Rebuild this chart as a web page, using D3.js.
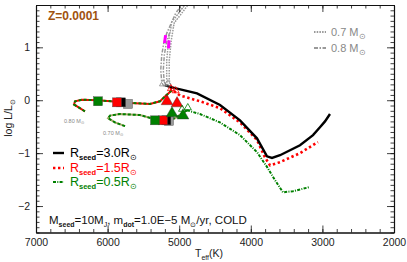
<!DOCTYPE html>
<html>
<head>
<meta charset="utf-8">
<script src="https://cdn.jsdelivr.net/npm/d3@7"></script>
<style>
  body { margin: 0; background: #fff; }
  svg { font-family: "Liberation Sans", Arial, sans-serif; }
</style>
</head>
<body>
<svg id="hrd" width="407" height="262"></svg>
<script>
// tick values
const teffTicks = [7000, 6000, 5000, 4000, 3000, 2000];
const lumTicks = [-2, -1, 0, 1];

// pre-MS tracks, [Teff, logL]
const track07 = [[4850, 2.0], [4905, 1.79], [4989, 1.64], [5087, 1.47], [5129, 1.13], [5157, 0.75], [5157, 0.38], [5129, 0.25]];
const track08 = [[4890, 2.0], [4947, 1.79], [5031, 1.64], [5157, 1.26], [5198, 1.08], [5226, 0.85], [5240, 0.57], [5226, 0.34], [5198, 0.28]];
const magenta07 = [[5143, 1.13], [5150, 0.98]];
const magenta08 = [[5190, 1.23], [5205, 1.08]];

// accretion tracks
const seed30 = [[5198, 0.28], [5059, 0.23], [4751, 0.13], [4430, -0.09], [4151, -0.38], [3914, -0.72], [3774, -1.06], [3704, -1.09], [3592, -1.04], [3313, -0.85], [3131, -0.66], [3034, -0.51], [2964, -0.40], [2894, -0.26]];
const seed15 = [[5129, 0.23], [4989, 0.09], [4710, -0.02], [4430, -0.15], [4151, -0.42], [3914, -0.75], [3802, -1.08], [3732, -1.23], [3592, -1.17], [3313, -1.00], [3062, -0.79]];
const seed05 = [[4891, -0.19], [4710, -0.26], [4430, -0.42], [4151, -0.66], [3914, -0.98], [3774, -1.26], [3662, -1.51], [3551, -1.74], [3411, -1.72], [3174, -1.64]];

// loops toward the ZAMS
const loop08 = [[6316, -0.21], [6399, -0.14], [6469, -0.08], [6455, -0.02], [6358, 0.01], [6134, 0.00], [5869, -0.03], [5687, -0.05], [5408, -0.07], [5268, -0.02], [5184, 0.09], [5101, 0.19]];
const loop07 = [[5757, -0.49], [5897, -0.42], [5994, -0.34], [5966, -0.29], [5827, -0.26], [5548, -0.28], [5338, -0.36], [5198, -0.38], [5059, -0.34], [4961, -0.25], [4891, -0.19]];

// markers
const squares = [
  {t: 5715, l: -0.07, c: "#999"}, {t: 5813, l: -0.04, c: "#000"}, {t: 5869, l: -0.04, c: "#f00"}, {t: 6134, l: -0.02, c: "#008000"},
  {t: 5143, l: -0.39, c: "#999"}, {t: 5180, l: -0.38, c: "#000"}, {t: 5226, l: -0.38, c: "#f00"}, {t: 5338, l: -0.38, c: "#008000"}
];
const triangles = [
  {t: 5170, l: -0.02, c: "#f00"}, {t: 5030, l: -0.06, c: "#f00"},
  {t: 5101, l: -0.25, c: "#008000"}, {t: 4947, l: -0.29, c: "#008000"}
];
const smallMarks = [
  {t: 5226, l: 0.31, c: "#888"}, {t: 5160, l: 0.31, c: "#888"},
  {t: 5115, l: 0.22, c: "#f00"}, {t: 5050, l: 0.18, c: "#f00"},
  {t: 4960, l: -0.17, c: "#008000"}, {t: 4880, l: -0.14, c: "#008000"}
];

const svg = d3.select('#hrd');
const x = d3.scaleLinear().domain([7000, 2000]).range([36, 394]);
const y = d3.scaleLinear().domain([-2.5, 1.8]).range([232.5, 5]);
const line = d3.line().x(d => x(d[0])).y(d => y(d[1]));

svg.append('clipPath').attr('id', 'clip')
  .append('rect').attr('x', 36).attr('y', 5).attr('width', 358).attr('height', 227.5);

const plot = svg.append('g').attr('clip-path', 'url(#clip)');

// gray tracks, drawn as double lines
function grayTrack(data, dash) {
  plot.append('path').attr('d', line(data)).attr('fill', 'none')
    .attr('stroke', '#999').attr('stroke-width', 4).attr('stroke-dasharray', dash);
  plot.append('path').attr('d', line(data)).attr('fill', 'none')
    .attr('stroke', '#fff').attr('stroke-width', 1.1);
}
grayTrack(track08, '4,1.5,1.5,1.5');
grayTrack(track07, '1.5,1.2');
[magenta07, magenta08].forEach(m => {
  plot.append('path').attr('d', line(m)).attr('fill', 'none')
    .attr('stroke', '#f0f').attr('stroke-width', 3);
});

// loops: red and green interleaved
[loop08, loop07].forEach((lp, i) => {
  plot.append('path').attr('d', line(lp)).attr('fill', 'none')
    .attr('stroke', i == 0 ? '#f00' : '#a9a76a').attr('stroke-width', 2);
  plot.append('path').attr('d', line(lp)).attr('fill', 'none')
    .attr('stroke', '#008000').attr('stroke-width', 2).attr('stroke-dasharray', '3,2');
});

plot.append('path').attr('d', line(seed05)).attr('fill', 'none')
  .attr('stroke', '#008000').attr('stroke-width', 2).attr('stroke-dasharray', '3,1.3,1,1.3');
plot.append('path').attr('d', line(seed15)).attr('fill', 'none')
  .attr('stroke', '#f00').attr('stroke-width', 2.6).attr('stroke-dasharray', '2.4,2.6');
plot.append('path').attr('d', line(seed30)).attr('fill', 'none')
  .attr('stroke', '#000').attr('stroke-width', 2.4);

// markers
plot.selectAll('rect.sq').data(squares).enter().append('rect')
  .attr('x', d => x(d.t) - 4.5).attr('y', d => y(d.l) - 4.5)
  .attr('width', 9).attr('height', 9)
  .attr('fill', d => d.c).attr('stroke', '#444').attr('stroke-width', 0.4);

const tri = d3.symbol().type(d3.symbolTriangle).size(60);
plot.selectAll('path.tri').data(triangles).enter().append('path')
  .attr('d', tri).attr('transform', d => `translate(${x(d.t)},${y(d.l)})`)
  .attr('fill', d => d.c).attr('stroke', '#333').attr('stroke-width', 0.4);

const smallTri = d3.symbol().type(d3.symbolTriangle).size(22);
plot.selectAll('path.st').data(smallMarks).enter().append('path')
  .attr('d', smallTri).attr('transform', d => `translate(${x(d.t)},${y(d.l)})`)
  .attr('fill', 'none').attr('stroke', d => d.c).attr('stroke-width', 0.8);

// axes, ticks pointing inward on all four sides
const frame = svg.append('g').attr('font-size', 10.5).attr('fill', '#222');
function minor(lo, hi, step) { return d3.range(lo, hi + step / 2, step).map(v => +v.toFixed(2)); }
const xMinor = minor(2000, 7000, 200);
const yMinor = minor(-2.5, 1.8, 0.1);

const axes = [
  [d3.axisBottom(x).tickValues(teffTicks).tickFormat(d3.format('d')), `translate(0,${y(-2.5)})`, true],
  [d3.axisBottom(x).tickValues(xMinor).tickFormat(''), `translate(0,${y(-2.5)})`, false],
  [d3.axisTop(x).tickValues(teffTicks).tickFormat(''), `translate(0,5)`, true],
  [d3.axisTop(x).tickValues(xMinor).tickFormat(''), `translate(0,5)`, false],
  [d3.axisLeft(y).tickValues(lumTicks).tickFormat(d3.format('d')), `translate(36,0)`, true],
  [d3.axisLeft(y).tickValues(yMinor).tickFormat(''), `translate(36,0)`, false],
  [d3.axisRight(y).tickValues(lumTicks).tickFormat(''), `translate(394,0)`, true],
  [d3.axisRight(y).tickValues(yMinor).tickFormat(''), `translate(394,0)`, false]
];
axes.forEach(([ax, tr, major]) => {
  const g = frame.append('g').attr('transform', tr)
    .call(ax.tickSizeInner(major ? -7 : -3.5).tickSizeOuter(0).tickPadding(major ? 6 : 0));
  g.selectAll('line').attr('stroke', '#111').attr('stroke-width', 0.8);
  g.select('.domain').attr('stroke', '#111').attr('stroke-width', 1.1);
  g.selectAll('text').attr('font-size', 10.5).attr('fill', '#222')
    .attr('font-family', '"Liberation Sans", Arial, sans-serif');
});

// axis titles
const xt = svg.append('text').attr('x', 209).attr('y', 257).attr('text-anchor', 'middle')
  .attr('font-size', 10.5).attr('fill', '#222');
xt.append('tspan').text('T');
xt.append('tspan').attr('font-size', 7).attr('dy', 2.5).text('eff');
xt.append('tspan').attr('dy', -2.5).text('(K)');

const yt = svg.append('text').attr('transform', 'translate(12,118) rotate(-90)')
  .attr('text-anchor', 'middle').attr('font-size', 10.5).attr('fill', '#222');
yt.append('tspan').text('log L/L');
yt.append('tspan').attr('font-size', 7).attr('dy', 2.5).text('⊙');

// Z label
svg.append('text').attr('x', 48).attr('y', 20).attr('font-size', 12).attr('font-weight', 'bold')
  .attr('fill', '#a0520f').text('Z=0.0001');

// mass legend (top right)
const massLegend = [{label: '0.7', dash: '1.5,1.2', yy: 32}, {label: '0.8', dash: '4,1.5,1.5,1.5', yy: 48}];
massLegend.forEach(m => {
  svg.append('line').attr('x1', 314).attr('x2', 326).attr('y1', m.yy).attr('y2', m.yy)
    .attr('stroke', '#999').attr('stroke-width', 2).attr('stroke-dasharray', m.dash);
  const t = svg.append('text').attr('x', 331).attr('y', m.yy + 4).attr('font-size', 11).attr('fill', '#888');
  t.append('tspan').text(m.label + ' M');
  t.append('tspan').attr('font-size', 7.5).attr('dy', 2.5).text('⊙');
});

// small loop labels
[{txt: '0.80 M', xx: 64, yy: 123}, {txt: '0.70 M', xx: 103, yy: 135}].forEach(s => {
  const t = svg.append('text').attr('x', s.xx).attr('y', s.yy).attr('font-size', 5.5).attr('fill', '#888');
  t.append('tspan').text(s.txt);
  t.append('tspan').attr('font-size', 4).attr('dy', 1.2).text('⊙');
});

// seed radius legend
const seedLegend = [
  {r: '3.0', c: '#000', dash: null, w: 2.4, yy: 153},
  {r: '1.5', c: '#f00', dash: '2.4,2.6', w: 2.6, yy: 168},
  {r: '0.5', c: '#008000', dash: '3,1.3,1,1.3', w: 2, yy: 182}
];
seedLegend.forEach(s => {
  svg.append('line').attr('x1', 53).attr('x2', 64).attr('y1', s.yy).attr('y2', s.yy)
    .attr('stroke', s.c).attr('stroke-width', s.w).attr('stroke-dasharray', s.dash);
  const t = svg.append('text').attr('x', 70).attr('y', s.yy + 4).attr('font-size', 12.5).attr('fill', s.c);
  t.append('tspan').text('R');
  t.append('tspan').attr('font-size', 7.5).attr('font-weight', 'bold').attr('dy', 2.5).text('seed');
  t.append('tspan').attr('dy', -2.5).text('=' + s.r + 'R');
  t.append('tspan').attr('font-size', 8).attr('dy', 2.5).text('⊙');
});

// model parameters
const info = svg.append('text').attr('x', 49).attr('y', 224).attr('font-size', 11.5).attr('fill', '#111');
info.append('tspan').text('M');
info.append('tspan').attr('font-size', 7).attr('font-weight', 'bold').attr('dy', 2.5).text('seed');
info.append('tspan').attr('dy', -2.5).text('=10M');
info.append('tspan').attr('font-size', 7).attr('dy', 2.5).text('J');
info.append('tspan').attr('dy', -2.5).text(', m');
info.append('tspan').attr('font-size', 7).attr('font-weight', 'bold').attr('dy', 2.5).text('dot');
info.append('tspan').attr('dy', -2.5).text('=1.0E\u22125 M');
info.append('tspan').attr('font-size', 7).attr('dy', 2.5).text('⊙');
info.append('tspan').attr('dy', -2.5).text('/yr, COLD');
</script>
</body>
</html>
